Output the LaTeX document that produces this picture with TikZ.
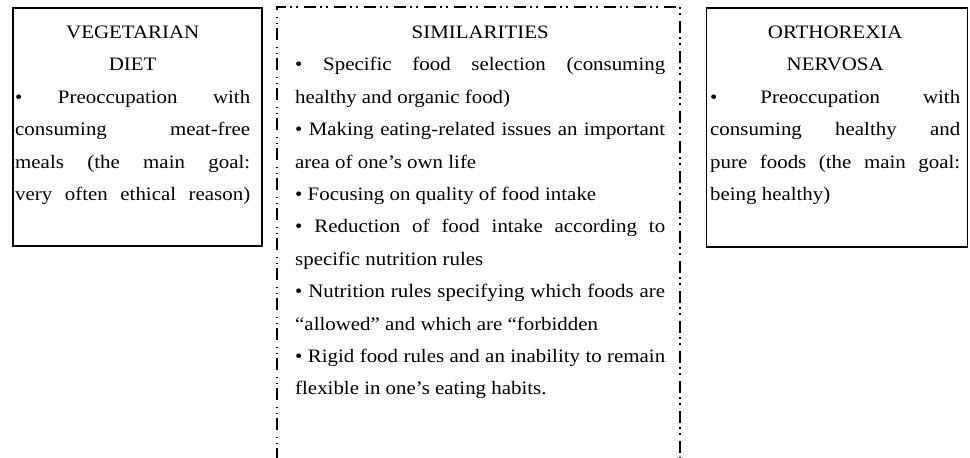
\documentclass[tikz,border=0pt]{standalone}
\usepackage{fontspec}
\setmainfont{Liberation Serif}[FakeStretch=1.1]
\tikzset{
  solidbox/.style={draw=black, line width=1.6pt, rectangle, inner sep=0pt, anchor=north west},
  simline/.style={draw=black, line width=1.2pt, dash pattern=on 12pt off 4pt on 1.5pt off 4.5pt on 1.5pt off 6.5pt},
  txt/.style={anchor=base west, inner sep=0pt}
}
\newcommand{\boxfont}{\fontsize{19pt}{32.4pt}\selectfont\hyphenpenalty=10000\exhyphenpenalty=10000\hbadness=10000\tolerance=10000}
\begin{document}
\begin{tikzpicture}[x=1pt,y=-1pt]
\useasboundingbox (0,0) rectangle (970,458);
% boxes
\node[solidbox, minimum width=249pt, minimum height=238pt] (veg) at (12,7) {};
\node[solidbox, minimum width=261pt, minimum height=239pt] (ortho) at (705.5,7) {};
\coordinate (simbl) at (277,460);
\coordinate (simtl) at (277,7);
\coordinate (simtr) at (680,7);
\coordinate (simbr) at (680,460);
\draw[simline] (simbl) -- (simtl) -- (simtr) -- (simbr);
% texts
\node[txt] (vegtext) at (15,38.5) {\parbox[t]{235pt}{\boxfont
{\centering VEGETARIAN\\DIET\par}
{\parfillskip=0pt • Preoccupation with\linebreak consuming meat-free\linebreak meals (the main goal:\linebreak very often ethical reason)\par}}};
\node[txt] (simtext) at (295,38.5) {\parbox[t]{370pt}{\boxfont
{\centering SIMILARITIES\par}
• Specific food selection (consuming\linebreak healthy and organic food)\par
• Making eating-related issues an important\linebreak area of one’s own life\par
• Focusing on quality of food intake\par
• Reduction of food intake according to\linebreak specific nutrition rules\par
• Nutrition rules specifying which foods are\linebreak “allowed” and which are “forbidden\par
• Rigid food rules and an inability to remain\linebreak flexible in one’s eating habits.\par}};
\node[txt] (orthotext) at (710,38.5) {\parbox[t]{250pt}{\boxfont
{\centering ORTHOREXIA\\NERVOSA\par}
• Preoccupation with\linebreak consuming healthy and\linebreak pure foods (the main goal:\linebreak being healthy)\par}};
\end{tikzpicture}
\end{document}
